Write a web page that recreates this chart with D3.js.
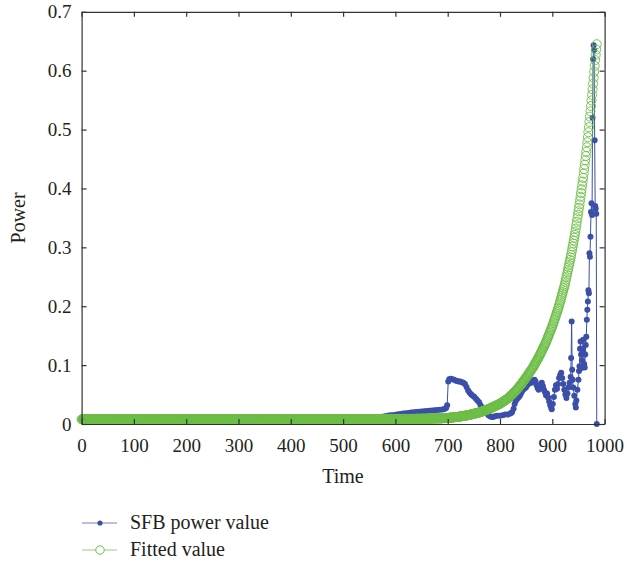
<!DOCTYPE html>
<html>
<head>
<meta charset="utf-8">
<script src="https://cdn.jsdelivr.net/npm/d3@7"></script>
<style>
  body { margin: 0; background: white; }
  text { font-family: "Liberation Serif", "DejaVu Serif", serif; }
</style>
</head>
<body>
<div id="container"></div>
<script>
let w = 627;
let h = 563;

// tick labels
let xTicks = [0, 100, 200, 300, 400, 500, 600, 700, 800, 900, 1000];
let yTicks = [0, 0.1, 0.2, 0.3, 0.4, 0.5, 0.6, 0.7];

let seriesNames = ["SFB power value", "Fitted value"];

// SFB power value (time, value)
let sfbTime = [
  0, 10, 20, 30, 40, 50, 60, 70, 80, 90, 100, 110, 120, 130, 140, 150, 160, 170, 180, 190,
  200, 210, 220, 230, 240, 250, 260, 270, 280, 290, 300, 310, 320, 330, 340, 350, 360, 370, 380, 390,
  400, 410, 420, 430, 440, 450, 460, 470, 480, 490, 500, 510, 520, 530, 540, 550, 560,
  570, 575, 580, 585, 590, 595, 600, 605, 610, 615, 620, 625, 630, 635, 640, 645, 650, 655, 660, 665,
  670, 675, 680, 685, 690, 694, 697, 699,
  701, 703, 706, 709, 712, 715, 718, 721, 724, 727, 730, 733, 736, 739, 742, 745, 748, 751, 754, 757,
  760, 763, 766, 769, 772, 775, 778, 781, 784, 787, 790, 795, 800, 805, 810, 815, 820, 823,
  826, 828, 830, 832, 834, 836, 838, 840, 842, 844, 846, 848, 850, 852, 854, 856, 858, 860, 862, 864,
  866, 868, 870, 872, 874, 876, 878, 880, 882, 884, 886, 888, 890, 892, 894, 896, 898, 899,
  901, 903, 905, 907, 909, 911, 913, 915, 917, 919, 921, 923, 925, 927, 929, 931, 933, 935, 936, 937,
  938, 939, 940, 942, 944, 945, 946, 948, 950, 951, 952, 953, 954, 955, 956, 957, 958, 959, 960, 961,
  962, 963, 964, 965, 966, 967, 968, 969, 970, 971, 972, 973, 974, 975, 976, 977, 978, 979, 980, 981,
  982, 983, 984, 985
];
let sfbValue = [
  0.009, 0.009, 0.009, 0.009, 0.009, 0.009, 0.009, 0.009, 0.009, 0.009, 0.009, 0.009, 0.009, 0.009, 0.009, 0.009, 0.009, 0.009, 0.009, 0.009,
  0.009, 0.009, 0.009, 0.009, 0.009, 0.009, 0.009, 0.009, 0.009, 0.009, 0.009, 0.009, 0.009, 0.009, 0.009, 0.009, 0.009, 0.009, 0.009, 0.009,
  0.009, 0.009, 0.009, 0.009, 0.009, 0.009, 0.009, 0.009, 0.009, 0.0092, 0.0093, 0.0094, 0.0095, 0.0096, 0.0098, 0.0100, 0.0104,
  0.0110, 0.0125, 0.0130, 0.0140, 0.0148, 0.0150, 0.0158, 0.0165, 0.0170, 0.0178, 0.0182, 0.0188, 0.0195, 0.0198, 0.0205, 0.0210, 0.0212, 0.0218, 0.0222, 0.0225,
  0.0230, 0.0235, 0.0238, 0.0240, 0.0245, 0.0255, 0.0270, 0.0320,
  0.072, 0.076, 0.077, 0.076, 0.075, 0.074, 0.073, 0.072, 0.072, 0.071, 0.070, 0.068, 0.063, 0.057, 0.053, 0.050, 0.048, 0.046, 0.043, 0.040,
  0.037, 0.032, 0.028, 0.024, 0.020, 0.018, 0.015, 0.013, 0.012, 0.012, 0.013, 0.014, 0.014, 0.015, 0.016, 0.016, 0.018, 0.020,
  0.026, 0.034, 0.039, 0.042, 0.044, 0.046, 0.048, 0.052, 0.055, 0.058, 0.060, 0.061, 0.063, 0.066, 0.068, 0.069, 0.071, 0.070, 0.072, 0.074,
  0.075, 0.072, 0.066, 0.061, 0.058, 0.062, 0.067, 0.070, 0.064, 0.058, 0.054, 0.049, 0.052, 0.045, 0.038, 0.032, 0.027, 0.025,
  0.034, 0.046, 0.058, 0.066, 0.060, 0.068, 0.078, 0.083, 0.087, 0.078, 0.068, 0.058, 0.050, 0.044, 0.052, 0.062, 0.070, 0.080, 0.112, 0.174,
  0.092, 0.075, 0.062, 0.048, 0.034, 0.028, 0.040, 0.058, 0.075, 0.090, 0.098, 0.128, 0.140, 0.118, 0.095, 0.108, 0.128, 0.143, 0.120, 0.102,
  0.096, 0.118, 0.134, 0.148, 0.177, 0.194, 0.208, 0.227, 0.222, 0.290, 0.284, 0.318, 0.360, 0.375, 0.355, 0.520, 0.620, 0.643, 0.635, 0.482,
  0.370, 0.366, 0.357, 0.000
];

// Fitted value, one value per time step starting at t = 0
let fittedValue = [
  // 0 - 399
  0.008, 0.008, 0.008, 0.008, 0.008, 0.008, 0.008, 0.008, 0.008, 0.008, 0.008, 0.008, 0.008, 0.008, 0.008, 0.008, 0.008, 0.008, 0.008, 0.008,
  0.008, 0.008, 0.008, 0.008, 0.008, 0.008, 0.008, 0.008, 0.008, 0.008, 0.008, 0.008, 0.008, 0.008, 0.008, 0.008, 0.008, 0.008, 0.008, 0.008,
  0.008, 0.008, 0.008, 0.008, 0.008, 0.008, 0.008, 0.008, 0.008, 0.008, 0.008, 0.008, 0.008, 0.008, 0.008, 0.008, 0.008, 0.008, 0.008, 0.008,
  0.008, 0.008, 0.008, 0.008, 0.008, 0.008, 0.008, 0.008, 0.008, 0.008, 0.008, 0.008, 0.008, 0.008, 0.008, 0.008, 0.008, 0.008, 0.008, 0.008,
  0.008, 0.008, 0.008, 0.008, 0.008, 0.008, 0.008, 0.008, 0.008, 0.008, 0.008, 0.008, 0.008, 0.008, 0.008, 0.008, 0.008, 0.008, 0.008, 0.008,
  0.008, 0.008, 0.008, 0.008, 0.008, 0.008, 0.008, 0.008, 0.008, 0.008, 0.008, 0.008, 0.008, 0.008, 0.008, 0.008, 0.008, 0.008, 0.008, 0.008,
  0.008, 0.008, 0.008, 0.008, 0.008, 0.008, 0.008, 0.008, 0.008, 0.008, 0.008, 0.008, 0.008, 0.008, 0.008, 0.008, 0.008, 0.008, 0.008, 0.008,
  0.008, 0.008, 0.008, 0.008, 0.008, 0.008, 0.008, 0.008, 0.008, 0.008, 0.008, 0.008, 0.008, 0.008, 0.008, 0.008, 0.008, 0.008, 0.008, 0.008,
  0.008, 0.008, 0.008, 0.008, 0.008, 0.008, 0.008, 0.008, 0.008, 0.008, 0.008, 0.008, 0.008, 0.008, 0.008, 0.008, 0.008, 0.008, 0.008, 0.008,
  0.008, 0.008, 0.008, 0.008, 0.008, 0.008, 0.008, 0.008, 0.008, 0.008, 0.008, 0.008, 0.008, 0.008, 0.008, 0.008, 0.008, 0.008, 0.008, 0.008,
  0.008, 0.008, 0.008, 0.008, 0.008, 0.008, 0.008, 0.008, 0.008, 0.008, 0.008, 0.008, 0.008, 0.008, 0.008, 0.008, 0.008, 0.008, 0.008, 0.008,
  0.008, 0.008, 0.008, 0.008, 0.008, 0.008, 0.008, 0.008, 0.008, 0.008, 0.008, 0.008, 0.008, 0.008, 0.008, 0.008, 0.008, 0.008, 0.008, 0.008,
  0.008, 0.008, 0.008, 0.008, 0.008, 0.008, 0.008, 0.008, 0.008, 0.008, 0.008, 0.008, 0.008, 0.008, 0.008, 0.008, 0.008, 0.008, 0.008, 0.008,
  0.008, 0.008, 0.008, 0.008, 0.008, 0.008, 0.008, 0.008, 0.008, 0.008, 0.008, 0.008, 0.008, 0.008, 0.008, 0.008, 0.008, 0.008, 0.008, 0.008,
  0.008, 0.008, 0.008, 0.008, 0.008, 0.008, 0.008, 0.008, 0.008, 0.008, 0.008, 0.008, 0.008, 0.008, 0.008, 0.008, 0.008, 0.008, 0.008, 0.008,
  0.008, 0.008, 0.008, 0.008, 0.008, 0.008, 0.008, 0.008, 0.008, 0.008, 0.008, 0.008, 0.008, 0.008, 0.008, 0.008, 0.008, 0.008, 0.008, 0.008,
  0.008, 0.008, 0.008, 0.008, 0.008, 0.008, 0.008, 0.008, 0.008, 0.008, 0.008, 0.008, 0.008, 0.008, 0.008, 0.008, 0.008, 0.008, 0.008, 0.008,
  0.008, 0.008, 0.008, 0.008, 0.008, 0.008, 0.008, 0.008, 0.008, 0.008, 0.008, 0.008, 0.008, 0.008, 0.008, 0.008, 0.008, 0.008, 0.008, 0.008,
  0.008, 0.008, 0.008, 0.008, 0.008, 0.008, 0.008, 0.008, 0.008, 0.008, 0.008, 0.008, 0.008, 0.008, 0.008, 0.008, 0.008, 0.008, 0.008, 0.008,
  0.008, 0.008, 0.008, 0.008, 0.008, 0.008, 0.008, 0.008, 0.008, 0.008, 0.008, 0.008, 0.008, 0.008, 0.008, 0.008, 0.008, 0.008, 0.008, 0.008,
  // 400 - 479
  0.0081, 0.0081, 0.0081, 0.0081, 0.0081, 0.0081, 0.0081, 0.0081, 0.0081, 0.0081, 0.0081, 0.0081, 0.0081, 0.0081, 0.0081, 0.0081, 0.0081, 0.0081, 0.0081, 0.0081,
  0.0081, 0.0081, 0.0081, 0.0081, 0.0081, 0.0081, 0.0081, 0.0081, 0.0081, 0.0081, 0.0081, 0.0081, 0.0081, 0.0081, 0.0081, 0.0081, 0.0081, 0.0081, 0.0081, 0.0081,
  0.0081, 0.0081, 0.0081, 0.0081, 0.0081, 0.0081, 0.0081, 0.0081, 0.0081, 0.0081, 0.0081, 0.0081, 0.0081, 0.0081, 0.0081, 0.0081, 0.0081, 0.0081, 0.0081, 0.0081,
  0.0081, 0.0081, 0.0081, 0.0081, 0.0081, 0.0081, 0.0081, 0.0081, 0.0081, 0.0081, 0.0081, 0.0081, 0.0081, 0.0081, 0.0081, 0.0081, 0.0081, 0.0081, 0.0081, 0.0081,
  // 480 - 529
  0.0082, 0.0082, 0.0082, 0.0082, 0.0082, 0.0082, 0.0082, 0.0082, 0.0082, 0.0082, 0.0082, 0.0082, 0.0082, 0.0082, 0.0082, 0.0082, 0.0082, 0.0082, 0.0082, 0.0082,
  0.0082, 0.0082, 0.0082, 0.0082, 0.0082, 0.0082, 0.0082, 0.0082, 0.0082, 0.0082, 0.0082, 0.0082, 0.0082, 0.0082, 0.0082, 0.0082, 0.0082, 0.0082, 0.0082, 0.0082,
  0.0082, 0.0082, 0.0082, 0.0082, 0.0082, 0.0082, 0.0082, 0.0082, 0.0082, 0.0082,
  // 530 - 569
  0.0083, 0.0083, 0.0083, 0.0083, 0.0083, 0.0083, 0.0083, 0.0083, 0.0083, 0.0083, 0.0083, 0.0083, 0.0083, 0.0083, 0.0083, 0.0083, 0.0083, 0.0083, 0.0083, 0.0083,
  0.0083, 0.0083, 0.0083, 0.0083, 0.0083, 0.0083, 0.0083, 0.0083, 0.0083, 0.0083, 0.0083, 0.0083, 0.0083, 0.0083, 0.0083, 0.0083, 0.0083, 0.0083, 0.0083, 0.0083,
  // 570 - 599
  0.0085, 0.0085, 0.0085, 0.0085, 0.0085, 0.0085, 0.0085, 0.0085, 0.0085, 0.0085, 0.0085, 0.0085, 0.0085, 0.0085, 0.0085, 0.0085, 0.0085, 0.0085, 0.0085, 0.0085,
  0.0085, 0.0085, 0.0085, 0.0085, 0.0085, 0.0085, 0.0085, 0.0085, 0.0085, 0.0085,
  // 600 - 639
  0.0086, 0.0086, 0.0086, 0.0086, 0.0086, 0.0086, 0.0086, 0.0086, 0.0086, 0.0086, 0.0086, 0.0086, 0.0086, 0.0086, 0.0086, 0.0086, 0.0086, 0.0086, 0.0086, 0.0086,
  0.0087, 0.0087, 0.0087, 0.0087, 0.0087, 0.0087, 0.0087, 0.0087, 0.0087, 0.0087, 0.0087, 0.0087, 0.0087, 0.0087, 0.0087, 0.0087, 0.0087, 0.0087, 0.0087, 0.0087,
  // 640 - 699
  0.0089, 0.0089, 0.0089, 0.0089, 0.0089, 0.0089, 0.0089, 0.0089, 0.0089, 0.0089,
  0.0090, 0.0090, 0.0090, 0.0090, 0.0090, 0.0090, 0.0090, 0.0090, 0.0090, 0.0090,
  0.0092, 0.0092, 0.0092, 0.0092, 0.0092, 0.0092, 0.0092, 0.0092, 0.0092, 0.0092,
  0.0094, 0.0094, 0.0094, 0.0094, 0.0094, 0.0094, 0.0094, 0.0094, 0.0094, 0.0094,
  0.0096, 0.0096, 0.0096, 0.0096, 0.0096, 0.0096, 0.0096, 0.0096, 0.0096, 0.0096,
  0.0099, 0.0099, 0.0099, 0.0099, 0.0099, 0.0101, 0.0101, 0.0101, 0.0101, 0.0101,
  // 700 - 985
  0.0103, 0.0104, 0.0105, 0.0106, 0.0107, 0.0107, 0.0108, 0.0109, 0.0110, 0.0111,
  0.0112, 0.0113, 0.0114, 0.0115, 0.0116, 0.0117, 0.0118, 0.0119, 0.0120, 0.0121,
  0.0122, 0.0123, 0.0125, 0.0126, 0.0128, 0.0129, 0.0131, 0.0132, 0.0134, 0.0135,
  0.0137, 0.0138, 0.0140, 0.0141, 0.0143, 0.0144, 0.0146, 0.0147, 0.0149, 0.0150,
  0.0152, 0.0154, 0.0156, 0.0158, 0.0161, 0.0163, 0.0165, 0.0167, 0.0169, 0.0171,
  0.0174, 0.0176, 0.0178, 0.0180, 0.0182, 0.0185, 0.0187, 0.0189, 0.0191, 0.0193,
  0.0196, 0.0198, 0.0200, 0.0203, 0.0207, 0.0210, 0.0213, 0.0217, 0.0220, 0.0223,
  0.0227, 0.0230, 0.0233, 0.0237, 0.0240, 0.0243, 0.0247, 0.0250, 0.0253, 0.0257,
  0.0260, 0.0264, 0.0269, 0.0273, 0.0277, 0.0281, 0.0286, 0.0290, 0.0294, 0.0298,
  0.0303, 0.0307, 0.0311, 0.0315, 0.0320, 0.0324, 0.0328, 0.0332, 0.0337, 0.0341,
  0.0345, 0.0351, 0.0357, 0.0362, 0.0368, 0.0374, 0.0380, 0.0385, 0.0391, 0.0397,
  0.0403, 0.0408, 0.0414, 0.0420, 0.0428, 0.0436, 0.0444, 0.0452, 0.0460, 0.0468,
  0.0475, 0.0483, 0.0491, 0.0499, 0.0507, 0.0515, 0.0525, 0.0535, 0.0545, 0.0555,
  0.0565, 0.0575, 0.0585, 0.0595, 0.0605, 0.0615, 0.0625, 0.0635, 0.0645, 0.0657,
  0.0669, 0.0681, 0.0693, 0.0705, 0.0718, 0.0730, 0.0742, 0.0754, 0.0766, 0.0778,
  0.0790, 0.0803, 0.0816, 0.0829, 0.0842, 0.0855, 0.0868, 0.0882, 0.0895, 0.0908,
  0.0921, 0.0934, 0.0947, 0.0960, 0.0976, 0.0992, 0.1008, 0.1023, 0.1039, 0.1055,
  0.1071, 0.1087, 0.1103, 0.1118, 0.1134, 0.1150, 0.1168, 0.1187, 0.1205, 0.1224,
  0.1242, 0.1261, 0.1279, 0.1298, 0.1316, 0.1335, 0.1353, 0.1372, 0.1390, 0.1413,
  0.1435, 0.1458, 0.1480, 0.1503, 0.1525, 0.1548, 0.1570, 0.1593, 0.1615, 0.1638,
  0.1660, 0.1687, 0.1713, 0.1740, 0.1767, 0.1793, 0.1820, 0.1847, 0.1873, 0.1900,
  0.1927, 0.1953, 0.1980, 0.2013, 0.2045, 0.2078, 0.2110, 0.2143, 0.2175, 0.2208,
  0.2240, 0.2273, 0.2305, 0.2338, 0.2370, 0.2412, 0.2453, 0.2495, 0.2537, 0.2578,
  0.2620, 0.2662, 0.2703, 0.2745, 0.2787, 0.2828, 0.2870, 0.2919, 0.2968, 0.3016,
  0.3065, 0.3114, 0.3163, 0.3211, 0.3260, 0.3319, 0.3378, 0.3436, 0.3495, 0.3554,
  0.3613, 0.3671, 0.3730, 0.3794, 0.3859, 0.3923, 0.3987, 0.4051, 0.4116, 0.4180,
  0.4254, 0.4329, 0.4403, 0.4477, 0.4551, 0.4626, 0.4700, 0.4785, 0.4870, 0.4955,
  0.5040, 0.5130, 0.5220, 0.5310, 0.5400, 0.5495, 0.5590, 0.5685, 0.5780, 0.5880,
  0.5980, 0.6080, 0.6180, 0.6270, 0.6360, 0.6450
];

let blue = "#3b4fa9";
let green = "#6cbd45";
let axisColor = "#333333";
let textColor = "#231f20";

let viz = d3.select("#container")
  .append("svg")
    .attr("width", w)
    .attr("height", h)
    .style("background-color", "white")
;

let xScale = d3.scaleLinear().domain([0, 1000]).range([81.6, 604.6]);
let yScale = d3.scaleLinear().domain([0, 0.7]).range([424, 11.8]);

// build point lists
let sfbData = sfbTime.map(function(t, i) { return {t: t, v: sfbValue[i]}; });
let fittedData = fittedValue.map(function(v, i) { return {t: i, v: v}; });

// SFB power value: line + filled dots
let sfbLine = d3.line()
  .x(function(d) { return xScale(d.t); })
  .y(function(d) { return yScale(d.v); });

viz.append("path")
  .datum(sfbData)
  .attr("d", sfbLine)
  .attr("fill", "none")
  .attr("stroke", blue)
  .attr("stroke-width", 1);

viz.append("g").attr("class", "sfbDots")
  .selectAll("circle").data(sfbData).enter()
  .append("circle")
    .attr("cx", function(d) { return xScale(d.t); })
    .attr("cy", function(d) { return yScale(d.v); })
    .attr("r", 3)
    .attr("fill", blue);

// Fitted value: hollow circles
viz.append("g").attr("class", "fitCircles")
  .selectAll("circle").data(fittedData).enter()
  .append("circle")
    .attr("cx", function(d) { return xScale(d.t); })
    .attr("cy", function(d) { return yScale(d.v); })
    .attr("r", 4.5)
    .attr("fill", "none")
    .attr("stroke", green)
    .attr("stroke-width", 0.9);

// axes (box with inward ticks)
function yLabel(d) { return d === 0 ? "0" : d3.format(".1f")(d); }

let xAxisGroup = viz.append("g").attr("class", "xaxis")
  .attr("transform", "translate(0," + yScale(0) + ")")
  .call(d3.axisBottom(xScale).tickValues(xTicks).tickSize(-5).tickSizeOuter(0).tickPadding(15).tickFormat(d3.format("d")));

let yAxisGroup = viz.append("g").attr("class", "yaxis")
  .attr("transform", "translate(" + xScale(0) + ",0)")
  .call(d3.axisLeft(yScale).tickValues(yTicks).tickSize(-5).tickSizeOuter(0).tickPadding(10).tickFormat(yLabel));

let topAxisGroup = viz.append("g")
  .attr("transform", "translate(0," + yScale(0.7) + ")")
  .call(d3.axisTop(xScale).tickValues(xTicks).tickSize(-5).tickSizeOuter(0).tickFormat(""));

let rightAxisGroup = viz.append("g")
  .attr("transform", "translate(" + xScale(1000) + ",0)")
  .call(d3.axisRight(yScale).tickValues(yTicks).tickSize(-5).tickSizeOuter(0).tickFormat(""));

viz.selectAll(".domain, .tick line")
  .attr("stroke", axisColor)
  .attr("stroke-width", 1.2);

viz.selectAll(".xaxis text, .yaxis text")
  .attr("font-family", "Liberation Serif, DejaVu Serif, serif")
  .attr("font-size", 19)
  .attr("fill", textColor);

// axis titles
viz.append("text")
  .attr("x", 343)
  .attr("y", 483)
  .attr("text-anchor", "middle")
  .attr("font-size", 20)
  .attr("fill", textColor)
  .text("Time");

viz.append("text")
  .attr("transform", "translate(25," + (yScale(0.35)) + ") rotate(-90)")
  .attr("text-anchor", "middle")
  .attr("font-size", 20)
  .attr("fill", textColor)
  .text("Power");

// legend
let legend = viz.append("g").attr("class", "legend");
let legendY = [523, 550];
let legendColors = [blue, green];

legend.selectAll("line").data(seriesNames).enter()
  .append("line")
    .attr("x1", 82)
    .attr("x2", 117)
    .attr("y1", function(d, i) { return legendY[i]; })
    .attr("y2", function(d, i) { return legendY[i]; })
    .attr("stroke", function(d, i) { return legendColors[i]; })
    .attr("stroke-opacity", 0.7)
    .attr("stroke-width", 1.2);

legend.append("circle")
  .attr("cx", 100).attr("cy", legendY[0]).attr("r", 2.6)
  .attr("fill", blue);

legend.append("circle")
  .attr("cx", 100).attr("cy", legendY[1]).attr("r", 4.2)
  .attr("fill", "white")
  .attr("stroke", green)
  .attr("stroke-width", 1);

legend.selectAll("text").data(seriesNames).enter()
  .append("text")
    .attr("x", 130)
    .attr("y", function(d, i) { return legendY[i] + 6; })
    .attr("font-size", 20)
    .attr("fill", textColor)
    .text(function(d) { return d; });
</script>
</body>
</html>
